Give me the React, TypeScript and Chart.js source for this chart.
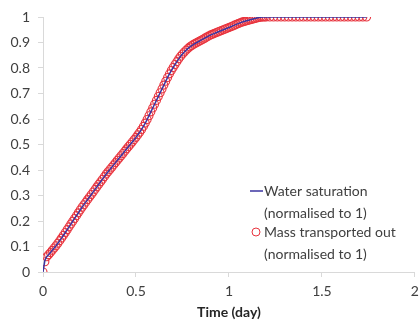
import React, { useEffect, useRef } from "react";
import { Chart, registerables } from "chart.js";

Chart.register(...registerables);

const timeDays = [
  0, 0.01, 0.02, 0.03, 0.04, 0.05, 0.06, 0.07, 0.08, 0.09,
  0.1, 0.11, 0.12, 0.13, 0.14, 0.15, 0.16, 0.17, 0.18, 0.19,
  0.2, 0.21, 0.22, 0.23, 0.24, 0.25, 0.26, 0.27, 0.28, 0.29,
  0.3, 0.31, 0.32, 0.33, 0.34, 0.35, 0.36, 0.37, 0.38, 0.39,
  0.4, 0.41, 0.42, 0.43, 0.44, 0.45, 0.46, 0.47, 0.48, 0.49,
  0.5, 0.51, 0.52, 0.53, 0.54, 0.55, 0.56, 0.57, 0.58, 0.59,
  0.6, 0.61, 0.62, 0.63, 0.64, 0.65, 0.66, 0.67, 0.68, 0.69,
  0.7, 0.71, 0.72, 0.73, 0.74, 0.75, 0.76, 0.77, 0.78, 0.79,
  0.8, 0.81, 0.82, 0.83, 0.84, 0.85, 0.86, 0.87, 0.88, 0.89,
  0.9, 0.91, 0.92, 0.93, 0.94, 0.95, 0.96, 0.97, 0.98, 0.99,
  1.0, 1.01, 1.02, 1.03, 1.04, 1.05, 1.06, 1.07, 1.08, 1.09,
  1.1, 1.11, 1.12, 1.13, 1.14, 1.15, 1.16, 1.17, 1.18, 1.19,
  1.2, 1.22, 1.24, 1.26, 1.28, 1.3, 1.32, 1.34, 1.36, 1.38,
  1.4, 1.42, 1.44, 1.46, 1.48, 1.5, 1.52, 1.54, 1.56, 1.58,
  1.6, 1.62, 1.64, 1.66, 1.68, 1.7, 1.72, 1.74,
];

const waterSaturation = [
  0, 0.045, 0.06, 0.068, 0.076, 0.085, 0.094, 0.103, 0.113, 0.123,
  0.133, 0.144, 0.155, 0.166, 0.177, 0.188, 0.199, 0.21, 0.221, 0.232,
  0.243, 0.254, 0.264, 0.274, 0.284, 0.294, 0.304, 0.314, 0.324, 0.334,
  0.344, 0.354, 0.364, 0.374, 0.384, 0.393, 0.402, 0.411, 0.42, 0.429,
  0.438, 0.447, 0.456, 0.465, 0.474, 0.483, 0.492, 0.501, 0.51, 0.519,
  0.528, 0.538, 0.548, 0.559, 0.571, 0.584, 0.598, 0.613, 0.628, 0.643,
  0.658, 0.673, 0.688, 0.703, 0.718, 0.733, 0.748, 0.763, 0.777, 0.79,
  0.802, 0.814, 0.825, 0.836, 0.846, 0.855, 0.863, 0.87, 0.877, 0.883,
  0.888, 0.893, 0.897, 0.901, 0.905, 0.909, 0.913, 0.917, 0.921, 0.925,
  0.929, 0.932, 0.935, 0.938, 0.941, 0.944, 0.947, 0.95, 0.953, 0.956,
  0.959, 0.962, 0.965, 0.968, 0.971, 0.974, 0.977, 0.98, 0.982, 0.984,
  0.986, 0.988, 0.99, 0.992, 0.994, 0.996, 0.998, 0.999, 1, 1,
  1, 1, 1, 1, 1, 1, 1, 1, 1, 1,
  1, 1, 1, 1, 1, 1, 1, 1, 1, 1,
  1, 1, 1, 1, 1, 1, 1, 1,
];

const massTransported = [
  0, 0.04, 0.06, 0.068, 0.076, 0.085, 0.094, 0.103, 0.113, 0.123,
  0.133, 0.144, 0.155, 0.166, 0.177, 0.188, 0.199, 0.21, 0.221, 0.232,
  0.243, 0.254, 0.264, 0.274, 0.284, 0.294, 0.304, 0.314, 0.324, 0.334,
  0.344, 0.354, 0.364, 0.374, 0.384, 0.393, 0.402, 0.411, 0.42, 0.429,
  0.438, 0.447, 0.456, 0.465, 0.474, 0.483, 0.492, 0.501, 0.51, 0.519,
  0.528, 0.538, 0.548, 0.559, 0.571, 0.584, 0.598, 0.613, 0.628, 0.643,
  0.658, 0.673, 0.688, 0.703, 0.718, 0.733, 0.748, 0.763, 0.777, 0.79,
  0.802, 0.814, 0.825, 0.836, 0.846, 0.855, 0.863, 0.87, 0.877, 0.883,
  0.888, 0.893, 0.897, 0.901, 0.905, 0.909, 0.913, 0.917, 0.921, 0.925,
  0.929, 0.932, 0.935, 0.938, 0.941, 0.944, 0.947, 0.95, 0.953, 0.956,
  0.959, 0.962, 0.965, 0.968, 0.971, 0.974, 0.977, 0.98, 0.982, 0.984,
  0.986, 0.988, 0.99, 0.992, 0.994, 0.996, 0.998, 0.999, 1, 1,
  1, 1, 1, 1, 1, 1, 1, 1, 1, 1,
  1, 1, 1, 1, 1, 1, 1, 1, 1, 1,
  1, 1, 1, 1, 1, 1, 1, 1,
];

const seriesNames = [
  ["Water saturation", "(normalised to 1)"],
  ["Mass transported out", "(normalised to 1)"],
];

const xTitle = "Time (day)";

const LINE_COLOR = "#3b35a0";
const MARKER_COLOR = "#e8343e";
const TEXT_COLOR = "#404040";
const AXIS_COLOR = "#d9d9d9";
const FONT = "Lato, 'Open Sans', sans-serif";

const fmt = (v: number) => String(Math.round(v * 10) / 10);

const legendPlugin = {
  id: "customLegend",
  afterDraw(chart: any) {
    const ctx = chart.ctx;
    ctx.save();
    ctx.font = `14px ${FONT}`;
    ctx.fillStyle = TEXT_COLOR;
    ctx.textBaseline = "middle";
    ctx.textAlign = "left";
    const tx = 264;
    // water saturation: line symbol
    ctx.strokeStyle = LINE_COLOR;
    ctx.lineWidth = 1.5;
    ctx.beginPath();
    ctx.moveTo(250, 191);
    ctx.lineTo(263, 191);
    ctx.stroke();
    ctx.fillText(seriesNames[0][0], tx, 191);
    ctx.fillText(seriesNames[0][1], tx, 213);
    // mass transported: circle symbol
    ctx.strokeStyle = MARKER_COLOR;
    ctx.lineWidth = 1;
    ctx.beginPath();
    ctx.arc(256, 232, 4, 0, Math.PI * 2);
    ctx.stroke();
    ctx.fillText(seriesNames[1][0], tx, 232);
    ctx.fillText(seriesNames[1][1], tx, 254);
    ctx.restore();
  },
};

export default function App() {
  const canvasRef = useRef<HTMLCanvasElement | null>(null);

  useEffect(() => {
    if (!canvasRef.current) return;
    const water = timeDays.map((t, i) => ({ x: t, y: waterSaturation[i] }));
    const mass = timeDays.map((t, i) => ({ x: t, y: massTransported[i] }));
    const chart = new Chart(canvasRef.current, {
      type: "scatter",
      data: {
        datasets: [
          {
            label: seriesNames[0].join(" "),
            data: water,
            showLine: true,
            borderColor: LINE_COLOR,
            borderWidth: 1.5,
            pointRadius: 0,
            fill: false,
          },
          {
            label: seriesNames[1].join(" "),
            data: mass,
            showLine: false,
            pointStyle: "circle",
            pointRadius: 4,
            borderColor: MARKER_COLOR,
            backgroundColor: "rgba(0,0,0,0)",
            pointBorderWidth: 1.1,
          },
        ],
      },
      options: {
        animation: false,
        responsive: true,
        maintainAspectRatio: false,
        layout: { padding: { top: 17, right: 3, left: 0, bottom: 0 } },
        plugins: {
          legend: { display: false },
          tooltip: { enabled: false },
        },
        scales: {
          x: {
            type: "linear",
            min: 0,
            max: 2,
            ticks: {
              stepSize: 0.5,
              color: TEXT_COLOR,
              font: { family: FONT, size: 14 },
              padding: 6,
              maxRotation: 0,
              callback: (v: any) => fmt(Number(v)),
            },
            grid: {
              drawOnChartArea: false,
              drawTicks: true,
              tickLength: 5,
              color: AXIS_COLOR,
            },
            border: { color: AXIS_COLOR },
            title: {
              display: true,
              text: xTitle,
              color: "#262626",
              font: { family: FONT, size: 14, weight: "bold" },
              padding: { top: 2, bottom: 4 },
            },
            afterFit(scale: any) {
              scale.paddingRight = 0;
              scale.paddingLeft = 0;
              scale.height = 53;
            },
          },
          y: {
            type: "linear",
            min: 0,
            max: 1,
            ticks: {
              stepSize: 0.1,
              color: TEXT_COLOR,
              font: { family: FONT, size: 14 },
              padding: 8,
              callback: (v: any) => fmt(Number(v)),
            },
            grid: {
              drawOnChartArea: false,
              drawTicks: true,
              tickLength: 5,
              color: AXIS_COLOR,
            },
            border: { color: AXIS_COLOR },
            afterFit(scale: any) {
              scale.width = 43;
              scale.paddingTop = 0;
              scale.paddingBottom = 0;
            },
          },
        },
      },
      plugins: [legendPlugin],
    });
    return () => chart.destroy();
  }, []);

  return (
    <div style={{ position: "absolute", left: 0, top: 0, width: 420, height: 325 }}>
      <canvas ref={canvasRef} />
    </div>
  );
}
